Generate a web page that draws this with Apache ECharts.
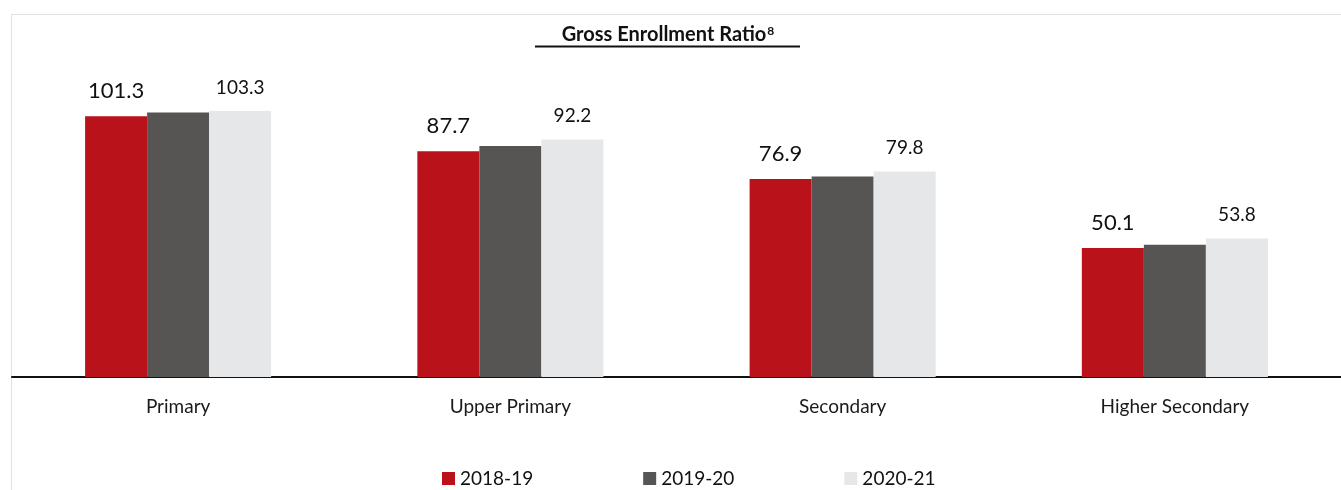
<!DOCTYPE html>
<html>
<head>
<meta charset="utf-8">
<script src="https://cdn.jsdelivr.net/npm/echarts@6/dist/echarts.min.js"></script>
<style>
  html, body { margin: 0; padding: 0; background: #fff; }
  #chart { width: 1341px; height: 490px; }
</style>
</head>
<body>
<div id="chart"></div>
<script>
// Gross Enrollment Ratio by level
const categories = ['Primary', 'Upper Primary', 'Secondary', 'Higher Secondary']
const years = ['2018-19', '2019-20', '2020-21']
const ger1819 = [101.3, 87.7, 76.9, 50.1]
const ger1920 = [102.7, 89.7, 77.9, 51.4]
const ger2021 = [103.3, 92.2, 79.8, 53.8]
const colors = ['#B9121A', '#575553', '#E6E7E8']

const font = 'Lato, "Open Sans", sans-serif'
const chart = echarts.init(document.getElementById('chart'))

let option = {
  animation: false,
  textStyle: { fontFamily: font },
  graphic: [
    {
      type: 'rect',
      shape: { x: 11.5, y: 14.5, width: 1340, height: 480 },
      style: { fill: 'none', stroke: '#e2e2e2', lineWidth: 1 },
      z: -1
    },
    {
      // title with superscript note mark
      type: 'text',
      x: 668,
      y: 45,
      style: {
        text: '{t|Gross Enrollment Ratio}{s|8}',
        align: 'center',
        verticalAlign: 'bottom',
        rich: {
          t: { fontFamily: font, fontWeight: 'bold', fontSize: 20, fill: '#111', verticalAlign: 'bottom' },
          s: { fontFamily: font, fontWeight: 'bold', fontSize: 12, fill: '#111', verticalAlign: 'top', padding: [0, 0, 0, 1] }
        }
      }
    },
    {
      type: 'line',
      shape: { x1: 535, y1: 46.5, x2: 800, y2: 46.5 },
      style: { stroke: '#111', lineWidth: 2 }
    }
  ],
  legend: {
    data: years,
    left: 437,
    top: 464,
    itemWidth: 13,
    itemHeight: 13,
    itemGap: 110,
    icon: 'rect',
    textStyle: { fontSize: 19, color: '#111', fontFamily: font }
  },
  grid: { left: 12, right: -15, top: 68, bottom: 113, containLabel: false },
  xAxis: {
    type: 'category',
    data: categories,
    axisLine: { lineStyle: { color: '#111', width: 2 } },
    axisTick: { show: false },
    axisLabel: { fontSize: 19, color: '#1a1a1a', margin: 20, fontFamily: font }
  },
  yAxis: {
    type: 'value',
    min: 0,
    max: 120,
    show: false,
    splitLine: { show: false }
  },
  series: [
    {
      name: years[0],
      type: 'bar',
      data: ger1819,
      itemStyle: { color: colors[0] },
      barGap: '0%',
      barCategoryGap: '44%',
      label: { show: true, position: 'top', distance: 14, fontSize: 22, color: '#111', fontFamily: font }
    },
    {
      name: years[1],
      type: 'bar',
      data: ger1920,
      itemStyle: { color: colors[1] },
      label: { show: false }
    },
    {
      name: years[2],
      type: 'bar',
      data: ger2021,
      itemStyle: { color: colors[2] },
      label: { show: true, position: 'top', distance: 14, fontSize: 19, color: '#111', fontFamily: font }
    }
  ]
}
chart.setOption(option)
</script>
</body>
</html>
